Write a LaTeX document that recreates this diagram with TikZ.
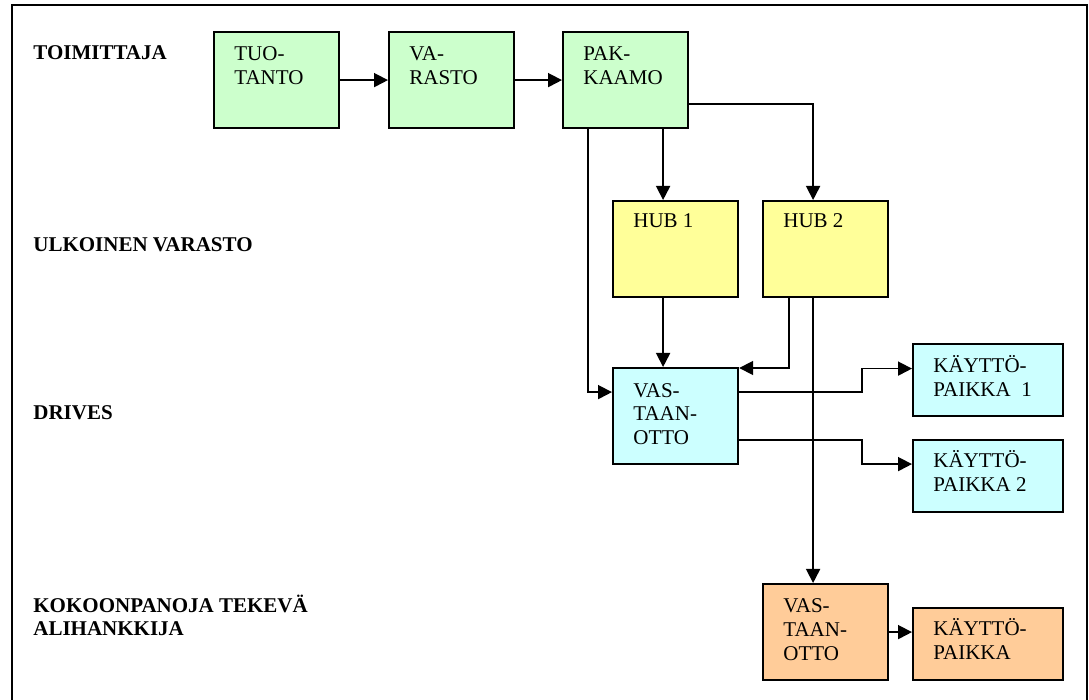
\documentclass[tikz,border=0pt]{standalone}
\usepackage{fontspec}
\setmainfont{Liberation Serif}
\usetikzlibrary{arrows.meta,positioning,calc}
\definecolor{boxgreen}{HTML}{CCFFCC}
\definecolor{boxyellow}{HTML}{FFFF99}
\definecolor{boxcyan}{HTML}{CCFFFF}
\definecolor{boxorange}{HTML}{FFCC99}

\begin{document}
\begin{tikzpicture}[x=0.5pt,y=-0.5pt,>={Triangle[length=7pt,width=7pt]},
  font=\fontsize{10.5}{12}\selectfont,
  bigbox/.style={draw,line width=1.1pt,anchor=north west,
    minimum width=62.5pt,minimum height=48pt,inner sep=0pt},
  smallbox/.style={draw,line width=1.1pt,anchor=north west,
    minimum width=75pt,minimum height=36pt,inner sep=0pt},
  boxtext/.style={anchor=base west,align=left,inner sep=0pt},
  lane/.style={anchor=base west,align=left,inner sep=0pt,
    font=\fontsize{10.5}{11.5}\selectfont\bfseries},
  flow/.style={->,line width=0.9pt}]
  \useasboundingbox (0,0) rectangle (1089,700);
  \draw[line width=1.2pt] (12,700) -- (12,5) -- (1087,5) -- (1087,700);
  % lanes (base = last line)
  \node[lane] (supplier) at (33,60) {TOIMITTAJA};
  \node[lane] (extstore) at (33,252) {ULKOINEN VARASTO};
  \node[lane] (drives) at (33,420) {DRIVES};
  \node[lane] (subcon) at (33,636) {KOKOONPANOJA TEKEVÄ\\ALIHANKKIJA};
  % boxes
  \node[bigbox,fill=boxgreen] (tuo) at (213,31) {};
  \node[bigbox,fill=boxgreen] (var) at (388,31) {};
  \node[bigbox,fill=boxgreen] (pak) at (562,31) {};
  \node[bigbox,fill=boxyellow] (hub1) at (612,200) {};
  \node[bigbox,fill=boxyellow] (hub2) at (762,200) {};
  \node[bigbox,fill=boxcyan] (vast) at (612,367) {};
  \node[smallbox,fill=boxcyan] (kp1) at (912,343) {};
  \node[smallbox,fill=boxcyan] (kp2) at (912,439) {};
  \node[bigbox,fill=boxorange] (ovast) at (762,583) {};
  \node[smallbox,fill=boxorange] (okp) at (912,607) {};
  % box texts (base = last line)
  \node[boxtext] (tuo-t) at ([shift={(10.5pt,-27pt)}]tuo.north west) {TUO-\\TANTO};
  \node[boxtext] (var-t) at ([shift={(10.5pt,-27pt)}]var.north west) {VA-\\RASTO};
  \node[boxtext] (pak-t) at ([shift={(10.5pt,-27pt)}]pak.north west) {PAK-\\KAAMO};
  \node[boxtext] (hub1-t) at ([shift={(10.5pt,-14pt)}]hub1.north west) {HUB 1};
  \node[boxtext] (hub2-t) at ([shift={(10.5pt,-14pt)}]hub2.north west) {HUB 2};
  \node[boxtext] (vast-t) at ([shift={(10.5pt,-39pt)}]vast.north west) {VAS-\\TAAN-\\OTTO};
  \node[boxtext] (kp1-t) at ([shift={(10.5pt,-27pt)}]kp1.north west) {KÄYTTÖ-\\PAIKKA\ \ 1};
  \node[boxtext] (kp2-t) at ([shift={(10.5pt,-26.5pt)}]kp2.north west) {KÄYTTÖ-\\PAIKKA 2};
  \node[boxtext] (ovast-t) at ([shift={(10.5pt,-39pt)}]ovast.north west) {VAS-\\TAAN-\\OTTO};
  \node[boxtext] (okp-t) at ([shift={(10.5pt,-26.5pt)}]okp.north west) {KÄYTTÖ-\\PAIKKA};
  % connectors
  \draw[flow] (tuo.east) -- (var.west);
  \draw[flow] (var.east) -- (pak.west);
  \draw[flow] ([xshift=18.75pt]pak.south) -- ([xshift=-6.25pt]hub1.north);
  \draw[flow] ([yshift=-12pt]pak.east) -| ([xshift=-6.25pt]hub2.north);
  \draw[flow] ([xshift=-18.75pt]pak.south) |- ([yshift=12pt]vast.west);
  \draw[flow] ([xshift=-6.25pt]hub1.south) -- ([xshift=-6.25pt]vast.north);
  \draw[flow] ([xshift=-18.25pt]hub2.south) |- ([yshift=-0.5pt]vast.north east);
  \draw[flow] ([xshift=-6.25pt]hub2.south) -- ([xshift=-6.25pt]ovast.north);
  \draw[flow] ([yshift=12pt]vast.east) -| ([shift={(-25pt,5.75pt)}]kp1.west)
    -- ([yshift=5.75pt]kp1.west);
  \draw[flow] ([yshift=-12pt]vast.east) -| ([shift={(-25pt,6pt)}]kp2.west)
    -- ([yshift=6pt]kp2.west);
  \draw[flow] (ovast.east) -- (ovast.east -| okp.west);
\end{tikzpicture}
\end{document}
